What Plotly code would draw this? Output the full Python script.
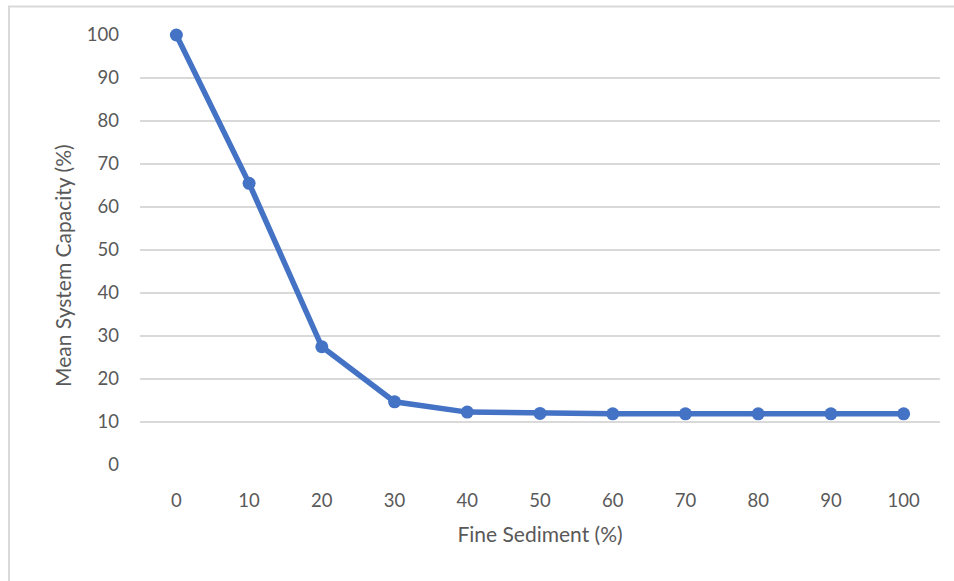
import plotly.graph_objects as go

# Fine sediment share (%) and the resulting mean system capacity (%)
fine_sediment = ["0", "10", "20", "30", "40", "50", "60", "70", "80", "90", "100"]
mean_capacity = [100, 65.5, 27.5, 14.7, 12.3, 12.0, 11.9, 11.9, 11.9, 11.9, 11.9]
y_ticks = [0, 10, 20, 30, 40, 50, 60, 70, 80, 90, 100]

BLUE = "#4472C4"
GRID = "#D9D9D9"
TEXT = "#595959"
FONT = "Lato, 'Open Sans', sans-serif"

# plot-area geometry in pixels (used to place the frame and the y title)
W, H = 954, 581
L, R, T, B = 140, 14, 35, 116
pw, ph = W - L - R, H - T - B

def px_x(x):
    return (x - L) / pw

def px_y(y):
    return (H - B - y) / ph

fig = go.Figure(
    go.Scatter(
        x=fine_sediment,
        y=mean_capacity,
        mode="lines+markers",
        line=dict(color=BLUE, width=5.5),
        marker=dict(color=BLUE, size=13),
        cliponaxis=False,
        hoverinfo="x+y",
    )
)

fig.update_layout(
    width=W,
    height=H,
    margin=dict(l=L, r=R, t=T, b=B),
    paper_bgcolor="white",
    plot_bgcolor="white",
    showlegend=False,
    font=dict(family=FONT, size=18, color=TEXT),
    shapes=[
        # outer chart frame (left and top edges)
        dict(type="line", xref="paper", yref="paper",
             x0=px_x(9), x1=px_x(9), y0=px_y(6), y1=px_y(600),
             line=dict(color=GRID, width=2)),
        dict(type="line", xref="paper", yref="paper",
             x0=px_x(8), x1=px_x(960), y0=px_y(6.5), y1=px_y(6.5),
             line=dict(color=GRID, width=2)),
    ],
    annotations=[
        dict(text="Mean System Capacity (%)", textangle=-90,
             xref="paper", yref="paper",
             x=px_x(62), y=px_y(266), xanchor="center", yanchor="middle",
             showarrow=False, font=dict(size=21, color=TEXT)),
    ],
)

fig.update_xaxes(
    type="category",
    range=[-0.5, 10.5],
    showgrid=False,
    showline=False,
    zeroline=False,
    ticks="",
    ticklabelstandoff=22,
    tickfont=dict(size=18.5, color=TEXT),
    title=dict(text="Fine Sediment (%)", font=dict(size=21, color=TEXT), standoff=17),
)

fig.update_yaxes(
    range=[0, 100],
    tickvals=y_ticks,
    showgrid=True,
    gridcolor=GRID,
    gridwidth=1.5,
    showline=False,
    zeroline=False,
    ticks="",
    ticklabelstandoff=20,
    tickfont=dict(size=18.5, color=TEXT),
)

fig.write_html("out.html")
